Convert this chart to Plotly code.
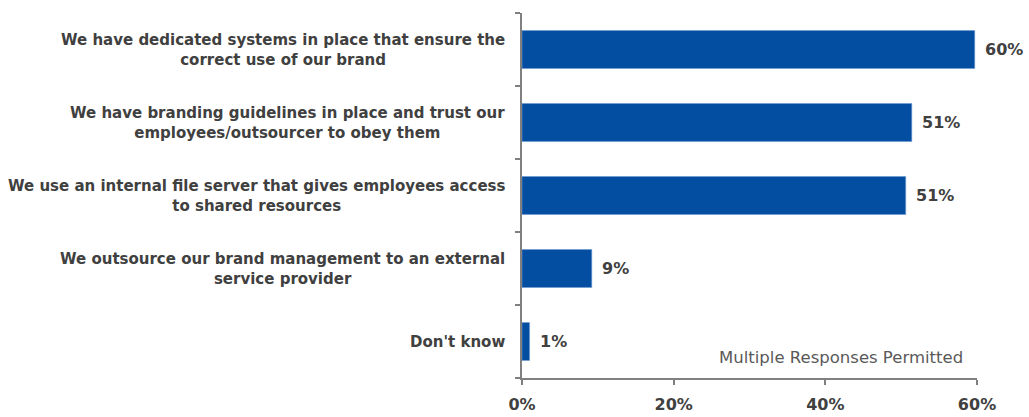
import plotly.graph_objects as go

# Survey responses (share of respondents, %)
categories = [
    "We have dedicated systems in place that ensure the<br>correct use of our brand",
    "We have branding guidelines in place and trust our<br>employees/outsourcer to obey them",
    "We use an internal file server that gives employees access<br>to shared resources",
    "We outsource our brand management to an external<br>service provider",
    "Don't know",
]
values = [59.7, 51.4, 50.6, 9.2, 1.0]
x_ticks = [0, 20, 40, 60]
x_tick_labels = ["0%", "20%", "40%", "60%"]
note = "Multiple Responses Permitted"

BAR_COLOR = "#044EA2"
TEXT_COLOR = "#404040"
AXIS_COLOR = "#808080"
FONT = "DejaVu Sans"

fig = go.Figure(
    go.Bar(
        x=values,
        y=categories,
        orientation="h",
        marker=dict(color=BAR_COLOR, line=dict(color="#6F9BD1", width=0.6)),
        hoverinfo="skip",
    )
)

annotations = []
# category labels, centred lines, right-aligned block next to the axis
for cat in categories:
    annotations.append(
        dict(
            x=0, xref="paper", y=cat, yref="y",
            text=f"<b>{cat}</b>", showarrow=False,
            xanchor="right", yanchor="middle", align="center",
            xshift=-15,
            font=dict(family=FONT, size=15, color=TEXT_COLOR),
        )
    )
# value labels at the end of each bar
for cat, v in zip(categories, values):
    annotations.append(
        dict(
            x=v, xref="x", y=cat, yref="y",
            text=f"<b>{v:.0f}%</b>", showarrow=False,
            xanchor="left", yanchor="middle", xshift=8,
            font=dict(family=FONT, size=16, color=TEXT_COLOR),
        )
    )
annotations.append(
    dict(
        x=0.974, xref="paper", y=0.0, yref="paper",
        text=note, showarrow=False,
        xanchor="right", yanchor="bottom", yshift=9,
        font=dict(family=FONT, size=16.5, color="#595959"),
    )
)

fig.update_layout(
    width=1029,
    height=417,
    margin=dict(l=522, r=52, t=13, b=39, autoexpand=False),
    paper_bgcolor="white",
    plot_bgcolor="white",
    bargap=0.48,
    showlegend=False,
    annotations=annotations,
    xaxis=dict(
        range=[0, 60],
        tickvals=x_ticks,
        ticktext=[f"<b>{t}</b>" for t in x_tick_labels],
        tickfont=dict(family=FONT, size=16, color=TEXT_COLOR),
        ticklabelstandoff=6,
        automargin=False,
        showgrid=False,
        zeroline=False,
        showline=True,
        linecolor=AXIS_COLOR,
        linewidth=1.5,
        ticks="outside",
        ticklen=5,
        tickcolor=AXIS_COLOR,
        tickwidth=1.5,
        fixedrange=True,
    ),
    yaxis=dict(
        categoryorder="array",
        categoryarray=categories[::-1],
        showticklabels=False,
        automargin=False,
        showgrid=False,
        zeroline=False,
        showline=True,
        linecolor=AXIS_COLOR,
        linewidth=1.5,
        ticks="outside",
        tickson="boundaries",
        ticklen=5,
        tickcolor=AXIS_COLOR,
        tickwidth=1.5,
        fixedrange=True,
    ),
)

fig.write_html("out.html", config={"displayModeBar": False})
